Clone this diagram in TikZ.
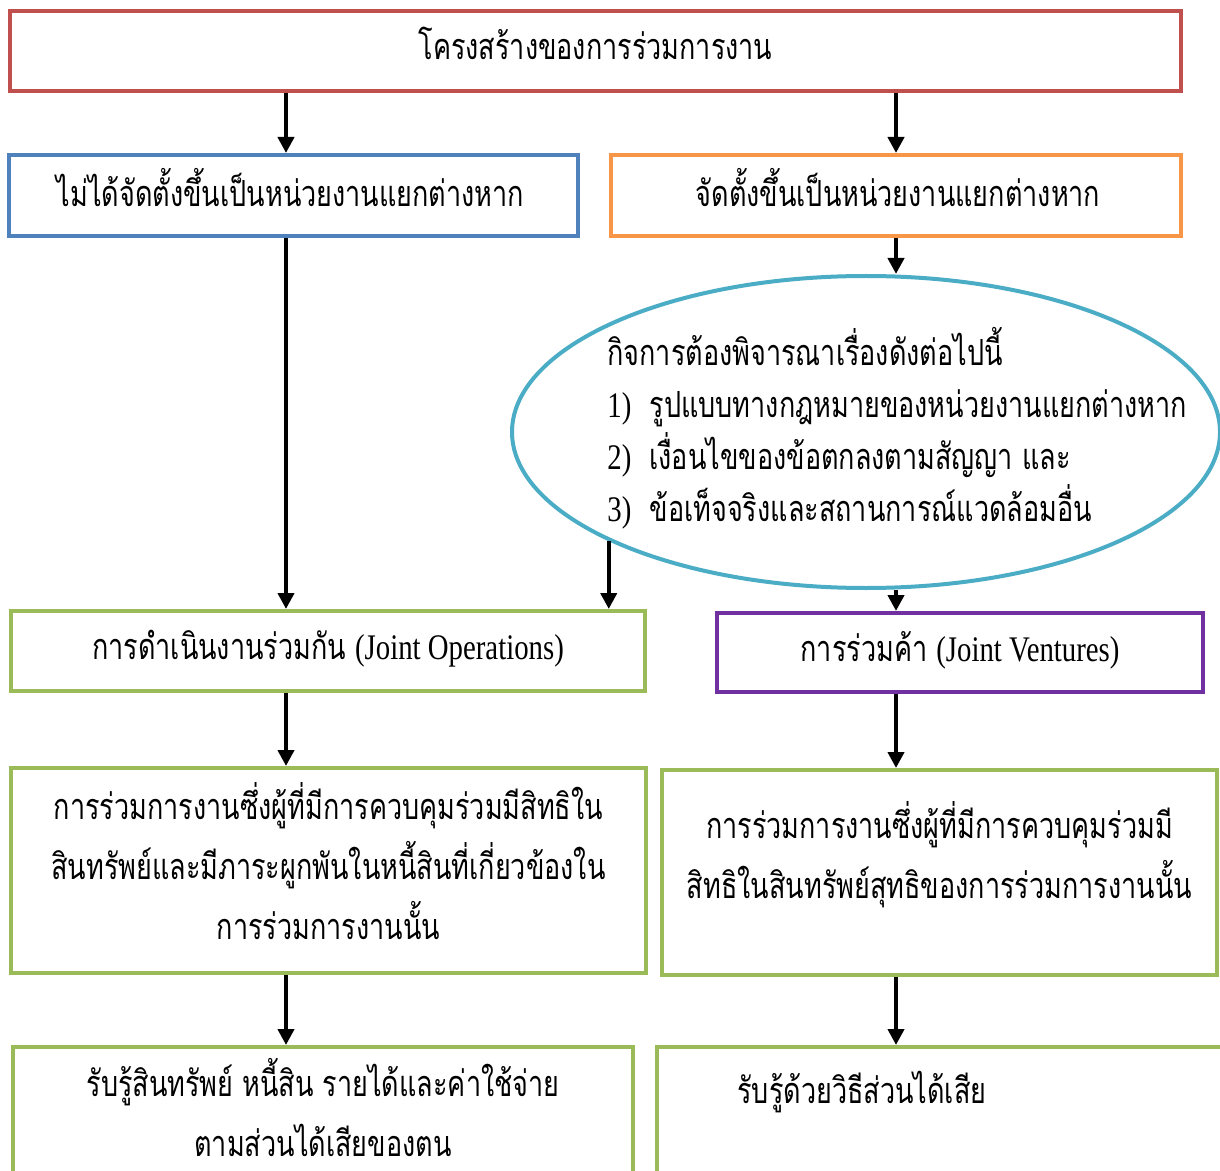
\documentclass[tikz,border=0pt]{standalone}
\usepackage{fontspec}
\setmainfont{Liberation Serif}[FakeStretch=0.8]
\newfontfamily\thaifont[Script=Thai,FakeStretch=0.75]{Loma}
\usetikzlibrary{calc,arrows.meta,shapes.geometric}
\usepackage{xcolor}
\definecolor{boxred}{HTML}{C0504D}
\definecolor{boxblue}{HTML}{4F81BD}
\definecolor{boxorange}{HTML}{F79646}
\definecolor{boxteal}{HTML}{4BACC6}
\definecolor{boxgreen}{HTML}{9BBB59}
\definecolor{boxpurple}{HTML}{7030A0}
\tikzset{
    every node/.style={font=\thaifont\fontsize{18}{30}\selectfont, inner sep=0pt},
    redbox/.style={draw=boxred, line width=2pt},
    bluebox/.style={draw=boxblue, line width=2pt},
    orangebox/.style={draw=boxorange, line width=2pt},
    greenbox/.style={draw=boxgreen, line width=2pt},
    purplebox/.style={draw=boxpurple, line width=2pt},
    tealcycle/.style={draw=boxteal, line width=2pt, ellipse},
    boxtext/.style={align=center},
    arrow/.style={-{Triangle[length=8pt,width=8pt]}, line width=2pt},
}

\begin{document}
\begin{tikzpicture}[x=0.5pt,y=-0.5pt]
\useasboundingbox (0,0) rectangle (1220,1171);
\clip (0,0) rectangle (1220,1171);
% columns of the arrows
\coordinate (leftcol) at (286,0);
\coordinate (rightcol) at (896,0);

% boxes
\node[redbox, minimum width=585.5pt, minimum height=40pt] (top) at (595.5,51) {};
\node[bluebox, minimum width=284.5pt, minimum height=40.5pt] (blue) at (293.5,195.5) {};
\node[orangebox, minimum width=285pt, minimum height=40.5pt] (orange) at (896,195.5) {};
\node[tealcycle, minimum width=354pt, minimum height=156pt] (ell) at (866,432) {};
\node[greenbox, minimum width=317pt, minimum height=40pt] (jointop) at (328,651) {};
\node[purplebox, minimum width=243pt, minimum height=39.5pt] (jv) at (960,652.5) {};
\node[greenbox, minimum width=317.5pt, minimum height=102.5pt] (jointassets) at (328.5,870.5) {};
\node[greenbox, minimum width=277.5pt, minimum height=102.5pt] (netassets) at (939.5,872.5) {};
\node[greenbox, minimum width=310pt, minimum height=68pt] (jointrec) at (323,1115) {};
\node[greenbox, minimum width=310pt, minimum height=68pt] (equity) at (967,1115) {};

% texts
\node[boxtext] (toptext) at ($(top)+(0,-8)$) {โครงสร้างของการร่วมการงาน};
\node[boxtext] (bluetext) at ($(blue)+(-3,-8)$) {ไม่ได้จัดตั้งขึ้นเป็นหน่วยงานแยกต่างหาก};
\node[boxtext] (orangetext) at ($(orange)+(2,-8)$) {จัดตั้งขึ้นเป็นหน่วยงานแยกต่างหาก};
\node[align=left, anchor=west, font=\thaifont\fontsize{18}{26}\selectfont] (consider) at (607,428)
  {กิจการต้องพิจารณาเรื่องดังต่อไปนี้\\
   {\rmfamily 1)}~~รูปแบบทางกฎหมายของหน่วยงานแยกต่างหาก\\
   {\rmfamily 2)}~~เงื่อนไขของข้อตกลงตามสัญญา และ\\
   {\rmfamily 3)}~~ข้อเท็จจริงและสถานการณ์แวดล้อมอื่น};
\node[boxtext] (jointoptext) at ($(jointop)+(0,-2)$)
  {การดำเนินงานร่วมกัน {\rmfamily (Joint Operations)}};
\node[boxtext] (jvtext) at ($(jv)+(0,-2)$) {การร่วมค้า {\rmfamily (Joint Ventures)}};
\node[boxtext] (jointassetstext) at ($(jointassets)+(0,-9)$)
  {การร่วมการงานซึ่งผู้ที่มีการควบคุมร่วมมีสิทธิใน\\
   สินทรัพย์และมีภาระผูกพันในหนี้สินที่เกี่ยวข้องใน\\
   การร่วมการงานนั้น};
\node[boxtext] (netassetstext) at ($(netassets)+(0,-18)$)
  {การร่วมการงานซึ่งผู้ที่มีการควบคุมร่วมมี\\
   สิทธิในสินทรัพย์สุทธิของการร่วมการงานนั้น};
\node[boxtext] (jointrectext) at ($(jointrec)+(0,-7)$)
  {รับรู้สินทรัพย์ หนี้สิน รายได้และค่าใช้จ่าย\\
   ตามส่วนได้เสียของตน};
\node[anchor=west] (equitytext) at (737,1092) {รับรู้ด้วยวิธีส่วนได้เสีย};

% left column
\foreach \a/\b in {top/blue, blue/jointop, jointop/jointassets, jointassets/jointrec}{
  \draw[arrow] (\a.south -| leftcol) -- (\b.north -| leftcol);
}
% right column
\foreach \a/\b in {top/orange, orange/ell, ell/jv, jv/netassets, netassets/equity}{
  \draw[arrow] (\a.south -| rightcol) -- (\b.north -| rightcol);
}
\draw[arrow] (ell.-157) -- (ell.-157 |- jointop.north);

\end{tikzpicture}
\end{document}
